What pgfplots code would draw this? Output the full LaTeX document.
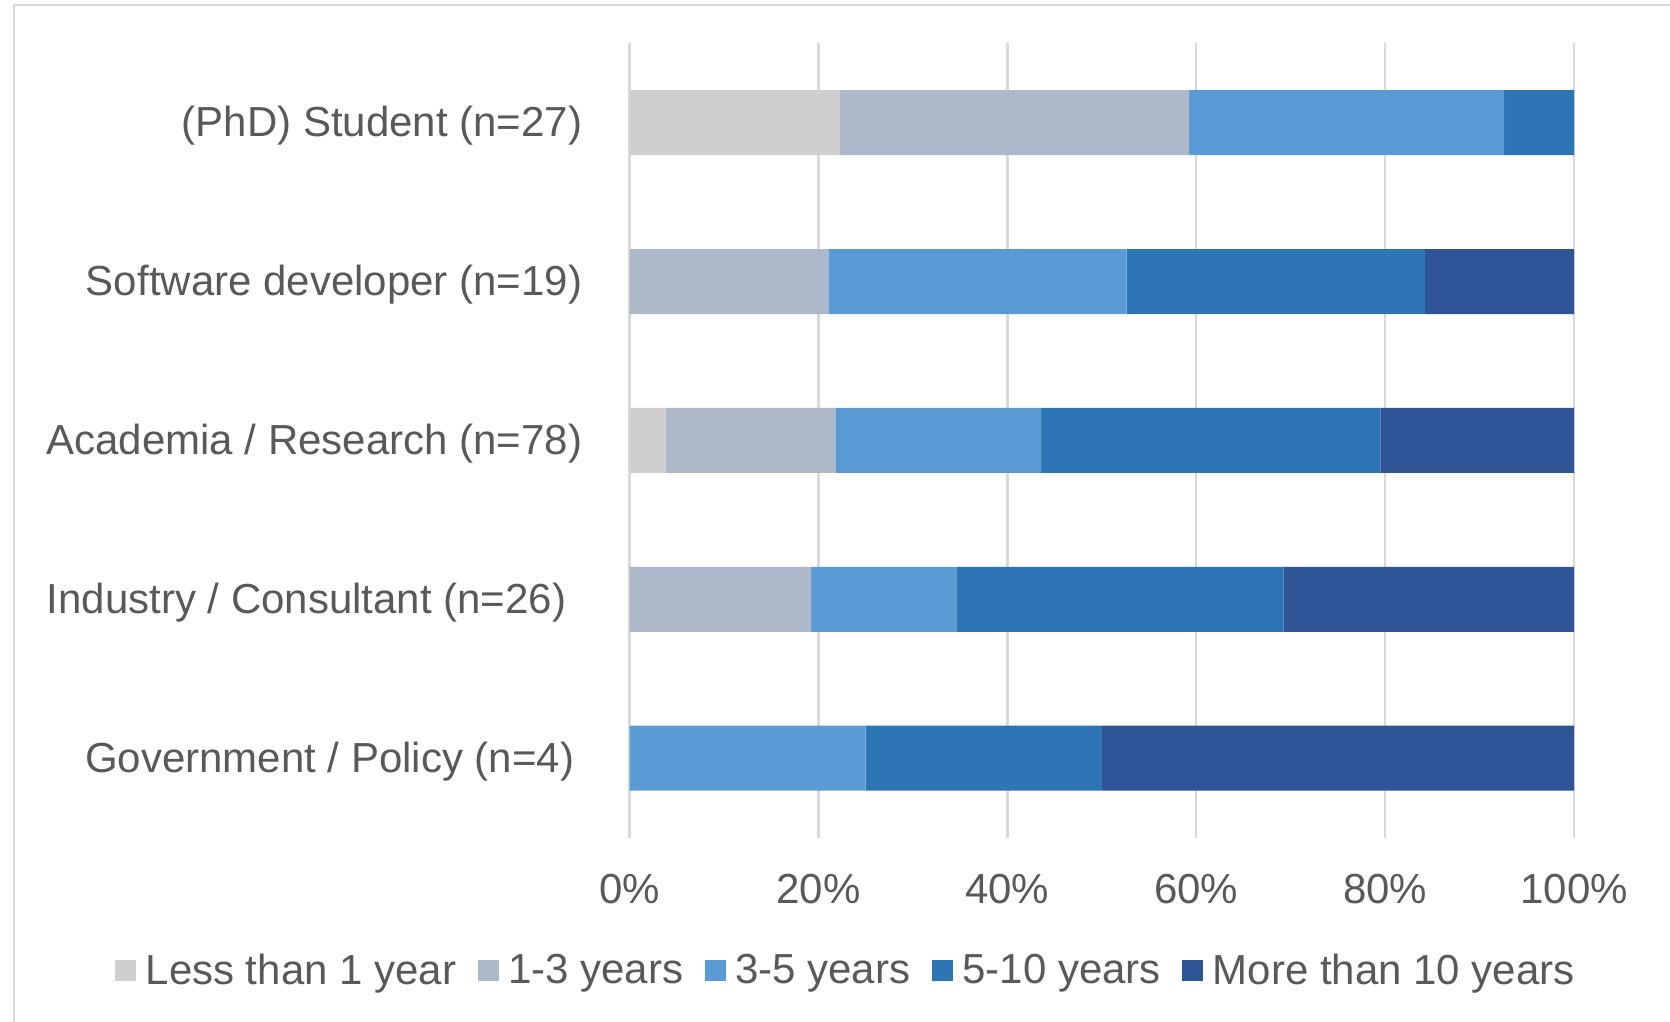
\documentclass[border=0pt]{standalone}
\usepackage{fontspec}
\setmainfont{Liberation Sans}
\usepackage{pgfplots}
\pgfplotsset{compat=1.18}

\definecolor{lessone}{HTML}{D0CECE}
\definecolor{onethree}{HTML}{ADB9CA}
\definecolor{threefive}{HTML}{5B9BD5}
\definecolor{fiveten}{HTML}{2E75B6}
\definecolor{moreten}{HTML}{2F5597}
\definecolor{gridgray}{HTML}{D9D9D9}
\definecolor{txt}{HTML}{595959}

\begin{document}
\begin{tikzpicture}
    \useasboundingbox (0,0) rectangle (835pt,511pt);
    \clip (0,0) rectangle (835pt,511pt);
    \draw[gridgray,line width=1.2pt] (7pt,-20pt) -- (7pt,508.5pt) -- (860pt,508.5pt);
    \begin{axis}[
        at={(314.75pt,92.15pt)},anchor=south west,
        scale only axis,
        width=472.25pt,height=397.25pt,
        xbar stacked,
        bar width=32.5pt,
        xmin=0,xmax=100,ymin=-0.5,ymax=4.5,
        xtick={0,20,40,60,80,100},
        xticklabels={0\%,20\%,40\%,60\%,80\%,100\%},
        ytick={0,1,2,3,4},
        yticklabels={Government / Policy (n=4)\hspace*{4pt},
                     Industry / Consultant (n=26)\hspace*{8pt},
                     Academia / Research (n=78),
                     Software developer (n=19),
                     (PhD) Student (n=27)},
        major tick length=0pt,
        axis line style={draw=none},
        xmajorgrids,
        major grid style={gridgray,line width=1.2pt},
        every tick label/.append style={font=\fontsize{21}{25}\selectfont,text=txt},
        xticklabel style={anchor=north,inner sep=0pt,yshift=-18pt},
        yticklabel style={anchor=east,inner sep=0pt,xshift=-23.5pt,yshift=-1.5pt},
        legend style={
            at={(0.228,-0.1675)},anchor=center,
            draw=none,fill=none,
            font=\fontsize{21}{25}\selectfont,text=txt,
            legend columns=-1,
            nodes={inner xsep=0pt,inner ysep=0pt},
            /tikz/every odd column/.append style={column sep=4.8pt},
            /tikz/every even column/.append style={column sep=10.7pt},
        },
        legend cell align=left,
        legend image code/.code={\fill[#1] (0pt,-5.25pt) rectangle (10.5pt,5.25pt);},
        every axis plot/.append style={draw=none},
    ]
        \addplot[fill=lessone] coordinates {(0,0) (0,1) (3.85,2) (0,3) (22.22,4)};
        \addplot[fill=onethree] coordinates {(0,0) (19.23,1) (17.95,2) (21.05,3) (37.04,4)};
        \addplot[fill=threefive] coordinates {(25,0) (15.38,1) (21.79,2) (31.58,3) (33.33,4)};
        \addplot[fill=fiveten] coordinates {(25,0) (34.62,1) (35.90,2) (31.58,3) (7.41,4)};
        \addplot[fill=moreten] coordinates {(50,0) (30.77,1) (20.51,2) (15.79,3) (0,4)};
        \legend{Less than 1 year,1-3 years,3-5 years,5-10 years,More than 10 years}
    \end{axis}
\end{tikzpicture}
\end{document}
